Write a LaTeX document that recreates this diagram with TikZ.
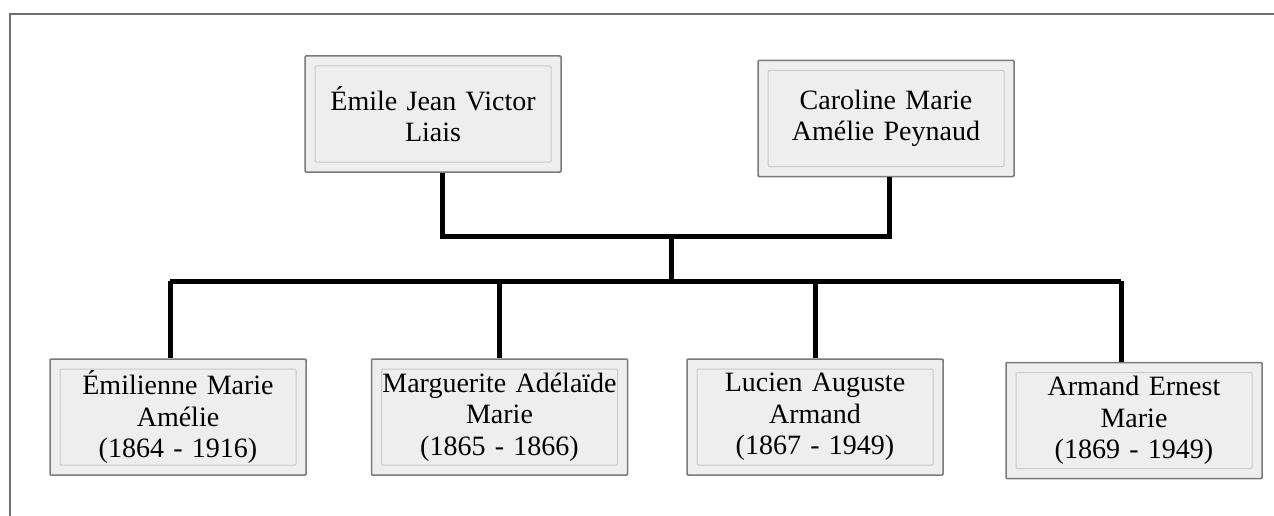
\documentclass[tikz,border=0pt]{standalone}
\usepackage{fontspec}
\setmainfont{Liberation Serif}
\definecolor{boxfill}{HTML}{EEEEEE}
\definecolor{boxedge}{HTML}{7A7A7A}
\definecolor{inneredge}{HTML}{C8C8C8}
\definecolor{frameedge}{HTML}{6E6E6E}
\tikzset{
  person/.style={draw=boxedge, line width=1.5pt, fill=boxfill, rounded corners=1pt,
    minimum width=256pt, minimum height=116pt, inner sep=0pt,
    text width=240pt, align=center, font=\fontsize{28}{31.5}\selectfont,
    path picture={\draw[inneredge, line width=1pt]
      ([shift={(10pt,-10pt)}]path picture bounding box.north west) rectangle
      ([shift={(-10pt,10pt)}]path picture bounding box.south east);}},
  link/.style={line width=5pt, black},
}
\begin{document}
\begin{tikzpicture}[x=1pt,y=-1pt]
\useasboundingbox (0,0) rectangle (1274,516);
\draw[frameedge, line width=1.5pt] (10,516) -- (10,14) -- (1274,14);

\node[person] (emile) at (433,114) {Émile Jean Victor\\Liais};
\node[person] (caroline) at (886,118.5) {Caroline Marie\\Amélie Peynaud};

\node[person] (emilienne) at (178,417) {Émilienne Marie\\Amélie\\(1864 - 1916)};
\node[person] (marguerite) at (499.5,417) {Marguerite Adélaïde\\Marie\\(1865 - 1866)};
\node[person] (lucien) at (815,417) {Lucien Auguste\\Armand\\(1867 - 1949)};
\node[person] (armand) at (1134,420.5) {Armand Ernest\\Marie\\(1869 - 1949)};

\coordinate (ej) at (442,236);
\coordinate (cj) at (889,236);
\coordinate (mid) at (671,236);
\coordinate (bar) at (671,281);
\coordinate (barL) at (170,281);
\coordinate (barR) at (1121,281);
\coordinate (b2) at (499,281);
\coordinate (b3) at (815,281);

\draw[link] (emile.south -| ej) -- (ej) -- (cj) -- (caroline.south -| cj);
\draw[link] (mid) -- (bar);
\draw[link] (barL) -- (barR);
\draw[link] (barL) -- (emilienne.north -| barL);
\draw[link] (b2) -- (marguerite.north -| b2);
\draw[link] (b3) -- (lucien.north -| b3);
\draw[link] (barR) -- (armand.north -| barR);
\end{tikzpicture}
\end{document}
